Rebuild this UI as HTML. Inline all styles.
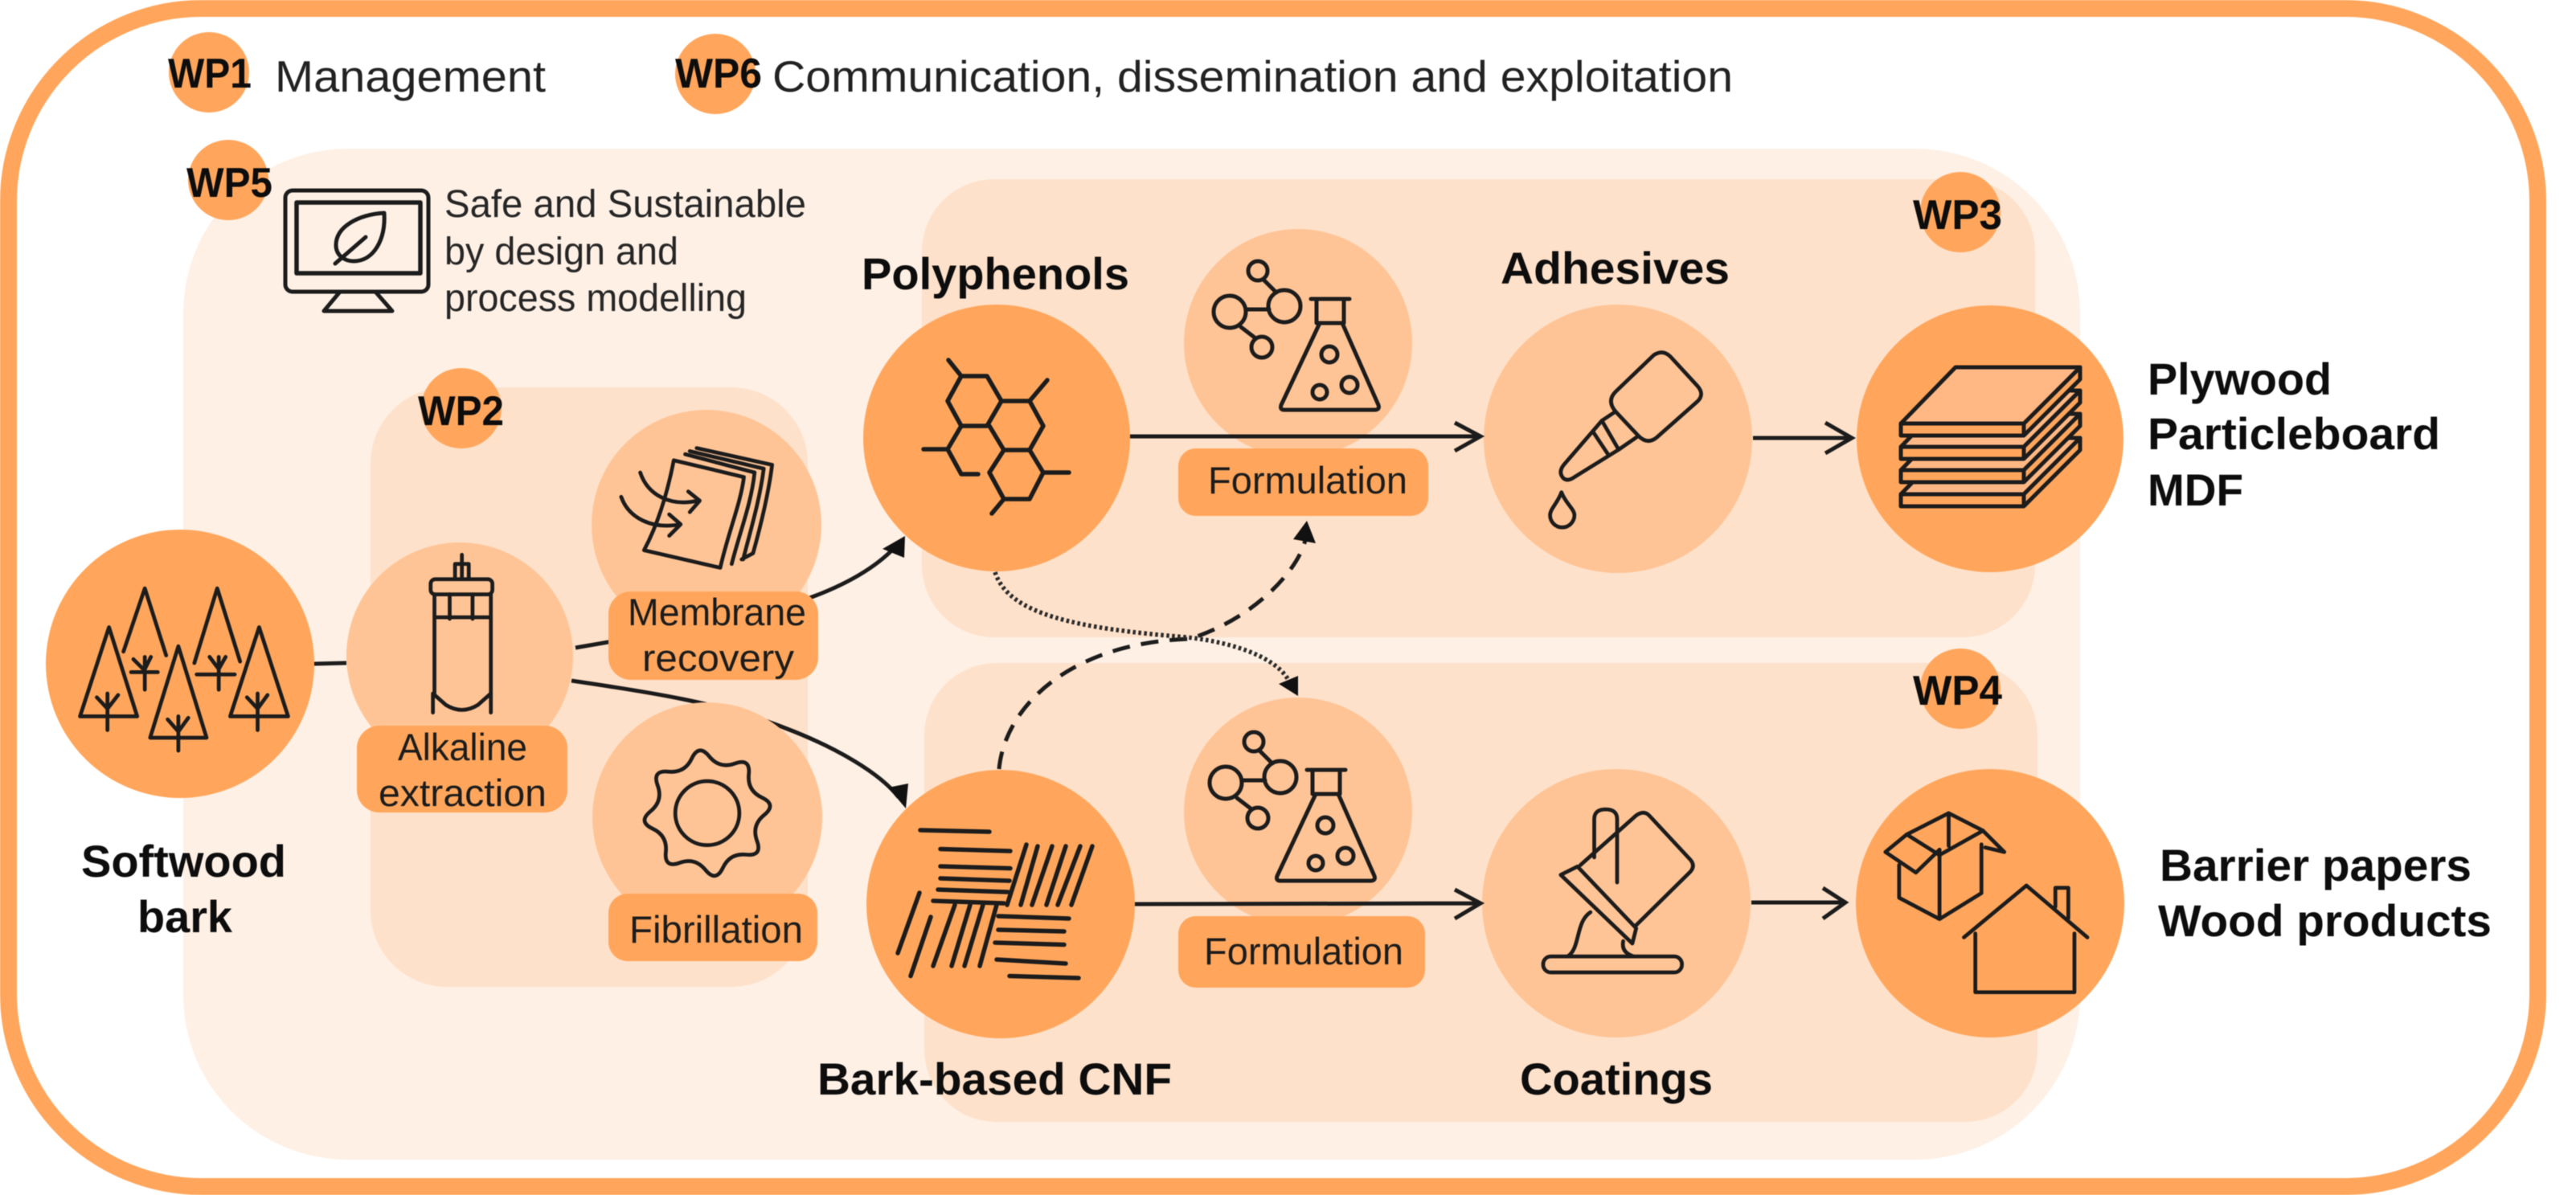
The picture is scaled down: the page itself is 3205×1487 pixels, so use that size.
<!DOCTYPE html>
<html><head><meta charset="utf-8"><style>
html,body{margin:0;padding:0;background:#fff}
svg{display:block;filter:blur(.6px)}
text{font-family:"Liberation Sans",Arial,sans-serif;fill:#1c1c1c}
.b{font-weight:bold;font-size:56px;fill:#0d0d0d}
.wp{font-weight:bold;font-size:52px;fill:#0d0d0d}
.m{font-size:55px;fill:#222}
.s{font-size:48px;fill:#262626}
.p{font-size:47px}
.i{fill:none;stroke:#1c1c1c;stroke-width:5;stroke-linecap:round;stroke-linejoin:round}
.c{fill:none;stroke:#1c1c1c;stroke-width:5}
</style></head><body>
<svg xmlns="http://www.w3.org/2000/svg" width="3205" height="1487" viewBox="0 0 3205 1487">
<rect width="3205" height="1487" fill="#fff"/>
<rect x="10.5" y="10.5" width="3147" height="1466" rx="240" ry="240" fill="#fff" stroke="#FFA65C" stroke-width="21"/>
<!-- panels -->
<rect x="228" y="185" width="2360" height="1258" rx="205" fill="#FEF0E4"/>
<rect x="461" y="482" width="544" height="746" rx="95" fill="#FEE1CA"/>
<rect x="1147" y="223" width="1385" height="570" rx="90" fill="#FEE1CA"/>
<rect x="1150" y="825" width="1385" height="571" rx="90" fill="#FEE1CA"/>
<!-- connectors behind nodes -->
<path class="c" d="M391 826 L431 825"/>
<path class="c" d="M716 806 L780 795 M990 750 C1045 732 1090 708 1118 676"/>
<path d="M1126 667 L1098 683 L1125 694 Z" fill="#111"/>
<path class="c" d="M711 847 C800 860 900 875 977 906 C1040 930 1095 962 1118 992"/>
<path d="M1127 1006 L1105 980 L1130 975 Z" fill="#111"/>
<!-- light circles -->
<g fill="#FFC496">
<circle cx="572" cy="816" r="141"/>
<circle cx="879" cy="653" r="143"/>
<circle cx="880" cy="1017" r="143"/>
<circle cx="1615" cy="427" r="142"/>
<circle cx="1615" cy="1010" r="142"/>
<circle cx="2013" cy="546" r="167"/>
<circle cx="2011" cy="1124" r="167"/>
</g>
<!-- dark circles -->
<g fill="#FFA65C">
<circle cx="224" cy="826" r="167"/>
<circle cx="1240" cy="545" r="166"/>
<circle cx="1245" cy="1125" r="167"/>
<circle cx="2476" cy="546" r="166"/>
<circle cx="2476" cy="1124" r="167"/>
<circle cx="260" cy="90" r="50"/>
<circle cx="890" cy="92" r="50"/>
<circle cx="284" cy="224" r="50"/>
<circle cx="574" cy="508" r="50"/>
<circle cx="2439" cy="264" r="50"/>
<circle cx="2439" cy="857" r="50"/>
<rect x="444" y="903" width="262" height="108" rx="28"/>
<rect x="757" y="736" width="261" height="110" rx="28"/>
<rect x="757" y="1112" width="260" height="84" rx="24"/>
<rect x="1466" y="558" width="311" height="84" rx="22"/>
<rect x="1466" y="1140" width="307" height="89" rx="22"/>
</g>
<!-- main arrows -->
<path class="c" d="M1406 543 L1840 543 M1810 526 L1842 543 L1810 561"/>
<path class="c" d="M2181 545 L2302 545 M2271 526 L2304 545 L2271 564"/>
<path class="c" d="M1412 1125 L1840 1124 M1810 1107 L1842 1124 L1810 1143"/>
<path class="c" d="M2179 1123 L2294 1123 M2268 1105 L2296 1123 L2268 1143"/>
<!-- dashed -->
<path class="c" stroke-dasharray="22 14" d="M1243 957 C1250 880 1330 800 1480 795 C1560 770 1615 710 1624 672"/>
<path d="M1626 648 L1609 671 L1637 676 Z" fill="#111"/>
<path fill="none" stroke="#2a2a2a" stroke-width="5.5" stroke-dasharray="3.5 3.5" d="M1238 712 C1255 765 1340 782 1477 793 C1540 800 1590 820 1604 848"/>
<path d="M1615 866 L1591 851 L1615 841 Z" fill="#111"/>
<!-- hexagons -->
<g class="i" style="stroke-width:5.5">
<path d="M1180 448 L1196 468 L1228 468 L1246 499 L1228 530 L1196 530 L1179 499 L1196 468"/>
<path d="M1246 499 L1281 499 L1298 530 L1281 560 L1249 560 L1231 530"/>
<path d="M1196 530 L1179 559 L1196 590 L1217 590 M1179 559 L1149 559"/>
<path d="M1249 560 L1231 588 L1249 621 L1281 621 L1298 588 L1281 560 M1298 588 L1330 588 M1249 621 L1234 639 M1281 499 L1303 473"/>
</g>
<!-- fibres -->
<g class="i" style="stroke-width:5.5">
<path d="M1145 1033 L1231 1035 M1170 1056.5 L1257 1059 M1170 1078 L1257 1080.5 M1170 1093 L1256 1096 M1167 1107 L1254 1110 M1161 1121 L1249 1124"/>
<path d="M1277 1051 L1253 1126 M1291 1053 L1270 1126 M1309 1053 L1284 1126 M1326 1053 L1302 1126 M1344 1053 L1316 1126 M1359 1053 L1333 1126"/>
<path d="M1242 1140 L1330 1143 M1242 1157 L1324 1159 M1238 1173 L1324 1175.5 M1240 1194 L1326 1199 M1256 1214.5 L1342 1217"/>
<path d="M1144 1111 L1117 1186 M1158 1141 L1133 1214.5 M1188 1126 L1161 1202 M1207 1126 L1184 1202 M1223 1126 L1200 1202 M1240 1126 L1219 1202"/>
</g>
<!-- molecule + flask -->
<g class="i">
<circle cx="1530" cy="388" r="20"/><circle cx="1598" cy="381" r="20"/><circle cx="1565" cy="337" r="12"/><circle cx="1570" cy="432" r="13"/>
<path d="M1551 385 L1579 385 M1572 348 L1588 364 M1544 407 L1561 420"/>
<path d="M1631 372 L1679 372 M1638 372 L1638 402 M1672 372 L1672 402 M1638 402 L1672 402"/>
<path d="M1642 402 L1594 504 Q1592 510 1598 510 L1710 510 Q1717 510 1715 504 L1670 402"/>
<circle cx="1654" cy="441" r="10"/><circle cx="1679" cy="479" r="10"/><circle cx="1642" cy="488" r="9"/>
</g>
<g class="i" transform="translate(-5 586)">
<circle cx="1530" cy="388" r="20"/><circle cx="1598" cy="381" r="20"/><circle cx="1565" cy="337" r="12"/><circle cx="1570" cy="432" r="13"/>
<path d="M1551 385 L1579 385 M1572 348 L1588 364 M1544 407 L1561 420"/>
<path d="M1631 372 L1679 372 M1638 372 L1638 402 M1672 372 L1672 402 M1638 402 L1672 402"/>
<path d="M1642 402 L1594 504 Q1592 510 1598 510 L1710 510 Q1717 510 1715 504 L1670 402"/>
<circle cx="1654" cy="441" r="10"/><circle cx="1679" cy="479" r="10"/><circle cx="1642" cy="488" r="9"/>
</g>
<!-- monitor (real coords) -->
<g class="i">
<rect x="355" y="237" width="178" height="126" rx="9"/>
<rect x="369" y="252" width="154" height="88" stroke-width="5.5"/>
<path d="M423 363 L403 387 L488 387 L467 363"/>
<path d="M478 265 C446 267 418 282 418 305 C418 318 429 325 440 325 C465 325 480 298 478 265 Z M417 328 L455 295"/>
</g>
<!-- boards (real coords) -->
<g class="i">
<path fill="#FFB884" d="M2365 615 L2433 545 L2588 545 L2518 615 Z"/>
<path fill="#FFA65C" d="M2365 615 L2518 615 L2588 545 L2588 560 L2518 630 L2365 630 Z M2518 615 L2518 630"/>
<path fill="#FFB884" d="M2365 585 L2433 515 L2588 515 L2518 585 Z"/>
<path fill="#FFA65C" d="M2365 585 L2518 585 L2588 515 L2588 530 L2518 600 L2365 600 Z M2518 585 L2518 600"/>
<path fill="#FFB884" d="M2365 556 L2433 486 L2588 486 L2518 556 Z"/>
<path fill="#FFA65C" d="M2365 556 L2518 556 L2588 486 L2588 501 L2518 571 L2365 571 Z M2518 556 L2518 571"/>
<path fill="#FFA65C" d="M2365 527 L2518 527 L2588 457 L2588 472 L2518 542 L2365 542 Z M2518 527 L2518 542"/>
<path fill="#FFB884" d="M2365 527 L2433 457 L2588 457 L2518 527 Z"/>
</g>
<!-- icons left (zoom coords) -->
<g transform="scale(.9483)" class="i">
<!-- trees -->
<path d="M162 855 L190 772 L218 860 M190 862 L190 905 M172 882 L207 882 M175 865 L190 880 M198 862 L190 878"/>
<path d="M255 870 L285 772 L315 868 M287 862 L287 905 M258 885 L308 885 M275 862 L287 878 M296 862 L287 878"/>
<path d="M143 823 L105 940 L180 940 Z M141 910 L141 958 M127 915 L141 930 M155 912 L141 930"/>
<path d="M234 848 L197 968 L271 968 Z M234 940 L234 985 M220 944 L234 960 M247 942 L234 960"/>
<path d="M340 823 L302 940 L378 940 Z M338 910 L338 958 M324 915 L338 930 M351 912 L338 930"/>
<!-- reactor -->
<path d="M606 728 L606 740 M597 760 L597 740 L615 740 L615 760 M606 740 L606 760"/>
<rect x="565" y="760" width="81" height="20" rx="6"/>
<path d="M570 780 L570 910 M644 780 L644 910 M570 810 L644 810 M590 780 L590 812 M620 780 L620 812"/>
<path d="M568 935 L568 910 L585 925 Q606 938 627 925 L644 910 L644 935"/>
<!-- membrane -->
<path d="M884 604 L976 626 C972 660 955 700 945 745 L845 722 C862 690 875 650 884 604 Z"/>
<path d="M899 596 L990 620 C986 660 970 700 960 740 M905 592 L1002 615 C997 655 985 695 975 734 M914 588 L1013 610 C1008 650 998 690 988 726 L973 734"/>
<path d="M840 620 C850 650 880 665 915 657 M903 645 L918 657 L905 672"/>
<path d="M815 652 C825 680 855 695 893 688 M878 675 L893 688 L878 703"/>
<!-- gear -->
<circle cx="928" cy="1067" r="42"/>
<path transform="translate(928 1067) rotate(-7)" d="M73.7 -11.5 Q92 0 73.7 11.5 Q55.4 23 60.25 44.05 Q65.1 65.1 44.05 60.25 Q23 55.4 11.5 73.7 Q0 92 -11.5 73.7 Q-23 55.4 -44.05 60.25 Q-65.1 65.1 -60.25 44.05 Q-55.4 23 -73.7 11.5 Q-92 0 -73.7 -11.5 Q-55.4 -23 -60.25 -44.05 Q-65.1 -65.1 -44.05 -60.25 Q-23 -55.4 -11.5 -73.7 Q0 -92 11.5 -73.7 Q23 -55.4 44.05 -60.25 Q65.1 -65.1 60.25 -44.05 Q55.4 -23 73.7 -11.5 Z"/>
</g>
<!-- icons right (zoom coords) -->
<g transform="translate(1718 0) scale(.9483)" class="i">
<!-- dropper -->
<path d="M358 466 Q370 458 380 468 L415 506 Q426 518 414 528 L362 574 Q350 584 338 572 L308 540 Q296 526 308 514 Z"/>
<path d="M308 540 L290 552 L312 590 L338 572"/>
<path d="M290 552 L240 610 Q232 620 240 628 Q246 632 254 626 L312 590 M278 566 L298 596"/>
<path d="M237 646 C232 660 222 668 222 676 A16 16 0 0 0 254 676 C254 668 242 660 237 646 Z"/>
<!-- bucket -->
<path d="M262 1135 L335 1070 Q345 1063 352 1070 L406 1128 Q413 1136 406 1144 L334 1215"/>
<path d="M236 1148 L258 1137 L335 1218 L330 1238 Z"/>
<path d="M280 1125 L280 1075 Q280 1062 295 1062 Q310 1062 310 1075 L310 1158"/>
<rect x="213" y="1255" width="182" height="21" rx="10"/>
<path d="M275 1197 C255 1210 262 1245 245 1255 M318 1235 Q315 1250 332 1255"/>
<!-- box -->
<path d="M680 1135 L680 1178 L733 1206 L788 1172 L788 1108 M733 1115 L733 1206"/>
<path d="M745 1067 L690 1095 L733 1122 L790 1090 Z M745 1067 L745 1110"/>
<path d="M690 1095 L662 1118 L702 1145 L733 1115 M790 1090 L818 1118 L793 1112"/>
<!-- house -->
<path d="M765 1230 L847 1162 L927 1230 M780 1225 L780 1302 L910 1302 L910 1225 M885 1190 L885 1165 L902 1165 L902 1205"/>
</g>
<!-- text -->
<text class="wp" x="209" y="109" textLength="104" lengthAdjust="spacingAndGlyphs">WP1</text>
<text class="wp" x="840" y="109" textLength="108" lengthAdjust="spacingAndGlyphs">WP6</text>
<text class="wp" x="232" y="245" textLength="107" lengthAdjust="spacingAndGlyphs">WP5</text>
<text class="wp" x="520" y="529" textLength="107" lengthAdjust="spacingAndGlyphs">WP2</text>
<text class="wp" x="2380" y="285" textLength="111" lengthAdjust="spacingAndGlyphs">WP3</text>
<text class="wp" x="2380" y="877" textLength="111" lengthAdjust="spacingAndGlyphs">WP4</text>
<text class="m" x="342" y="114" textLength="337" lengthAdjust="spacingAndGlyphs">Management</text>
<text class="m" x="961" y="114" textLength="1195" lengthAdjust="spacingAndGlyphs">Communication, dissemination and exploitation</text>
<text class="s" x="553" y="270" textLength="450" lengthAdjust="spacingAndGlyphs">Safe and Sustainable</text>
<text class="s" x="553" y="329" textLength="291" lengthAdjust="spacingAndGlyphs">by design and</text>
<text class="s" x="553" y="387" textLength="376" lengthAdjust="spacingAndGlyphs">process modelling</text>
<text class="b" x="1072" y="360" textLength="333" lengthAdjust="spacingAndGlyphs">Polyphenols</text>
<text class="b" x="1867" y="353" textLength="285" lengthAdjust="spacingAndGlyphs">Adhesives</text>
<text class="b" x="101" y="1091" textLength="255" lengthAdjust="spacingAndGlyphs">Softwood</text>
<text class="b" x="171" y="1160" textLength="118" lengthAdjust="spacingAndGlyphs">bark</text>
<text class="b" x="1017" y="1362" textLength="441" lengthAdjust="spacingAndGlyphs">Bark-based CNF</text>
<text class="b" x="1891" y="1362" textLength="240" lengthAdjust="spacingAndGlyphs">Coatings</text>
<text class="b" x="2672" y="491" textLength="229" lengthAdjust="spacingAndGlyphs">Plywood</text>
<text class="b" x="2672" y="559" textLength="364" lengthAdjust="spacingAndGlyphs">Particleboard</text>
<text class="b" x="2672" y="629" textLength="119" lengthAdjust="spacingAndGlyphs">MDF</text>
<text class="b" x="2687" y="1096" textLength="388" lengthAdjust="spacingAndGlyphs">Barrier papers</text>
<text class="b" x="2685" y="1165" textLength="415" lengthAdjust="spacingAndGlyphs">Wood products</text>
<text class="p" x="495" y="946" textLength="161" lengthAdjust="spacingAndGlyphs">Alkaline</text>
<text class="p" x="471" y="1003" textLength="209" lengthAdjust="spacingAndGlyphs">extraction</text>
<text class="p" x="781" y="778" textLength="222" lengthAdjust="spacingAndGlyphs">Membrane</text>
<text class="p" x="799" y="835" textLength="189" lengthAdjust="spacingAndGlyphs">recovery</text>
<text class="p" x="783" y="1173" textLength="216" lengthAdjust="spacingAndGlyphs">Fibrillation</text>
<text class="p" x="1503" y="614" textLength="248" lengthAdjust="spacingAndGlyphs">Formulation</text>
<text class="p" x="1498" y="1200" textLength="248" lengthAdjust="spacingAndGlyphs">Formulation</text>
</svg>
</body></html>
